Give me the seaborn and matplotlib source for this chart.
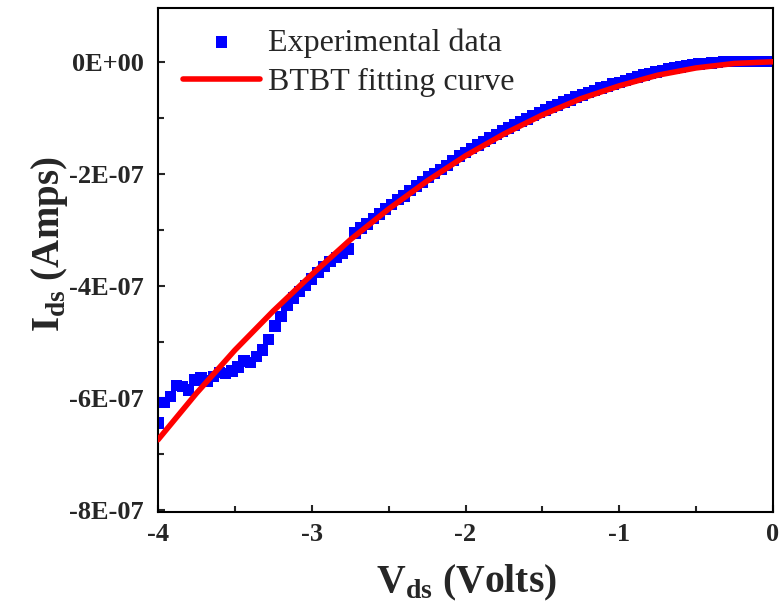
import matplotlib
matplotlib.use("Agg")
import matplotlib.pyplot as plt
import matplotlib.ticker as mticker
import numpy as np
import pandas as pd
import seaborn as sns

# measured sweep, Vds from -4 V to 0 V in 0.04 V steps
vds_exp = np.linspace(-4.0, 0.0, 101)
# drain current in units of 1e-7 A
ids_exp = [-6.45, -6.08, -5.98, -5.78, -5.80, -5.86, -5.68, -5.64, -5.70, -5.62,
           -5.55, -5.57, -5.52, -5.45, -5.34, -5.37, -5.26, -5.15, -4.96, -4.72,
           -4.55, -4.35, -4.22, -4.10, -4.00, -3.88, -3.76, -3.66, -3.57, -3.50,
           -3.42, -3.34, -3.06, -2.97, -2.90, -2.80, -2.72, -2.63, -2.55, -2.46,
           -2.40, -2.30, -2.22, -2.15, -2.06, -2.00, -1.92, -1.85, -1.76, -1.68,
           -1.62, -1.55, -1.49, -1.42, -1.36, -1.30, -1.24, -1.18, -1.13, -1.07,
           -1.02, -0.96, -0.91, -0.86, -0.81, -0.77, -0.72, -0.68, -0.63, -0.59,
           -0.55, -0.51, -0.47, -0.44, -0.40, -0.37, -0.33, -0.30, -0.27, -0.24,
           -0.21, -0.18, -0.16, -0.13, -0.11, -0.09, -0.07, -0.05, -0.04, -0.03,
           -0.02, -0.01, 0.00, 0.00, 0.00, 0.00, 0.00, 0.00, 0.00, 0.00, 0.00]

vds_fit = [-4.0, -3.75, -3.5, -3.25, -3.0, -2.75, -2.5, -2.25, -2.0,
           -1.75, -1.5, -1.25, -1.0, -0.75, -0.5, -0.25, 0.0]
ids_fit = [-6.75, -5.92, -5.15, -4.45, -3.80, -3.18, -2.63, -2.13, -1.68,
           -1.29, -0.95, -0.66, -0.43, -0.24, -0.11, -0.03, 0.0]

df_exp = pd.DataFrame({"V": vds_exp, "I": np.array(ids_exp) * 1e-7})
df_fit = pd.DataFrame({"V": vds_fit, "I": np.array(ids_fit) * 1e-7})

sns.set_style("ticks")
plt.rcParams["font.family"] = ["Liberation Serif", "DejaVu Serif"]
plt.rcParams["mathtext.fontset"] = "custom"
plt.rcParams["mathtext.rm"] = "Liberation Serif:bold"
plt.rcParams["mathtext.bf"] = "Liberation Serif:bold"
plt.rcParams["axes.unicode_minus"] = False

fig = plt.figure(figsize=(7.81, 6.08), dpi=100)
ax = fig.add_axes([158 / 781, 1 - 512 / 608, (773 - 158) / 781, (512 - 8) / 608])

sns.scatterplot(data=df_exp, x="V", y="I", marker="s", s=68, color="#0000ff",
                edgecolor="none", linewidth=0, label="Experimental data", ax=ax, zorder=2)
sns.lineplot(data=df_fit, x="V", y="I", color="#ff0000", linewidth=4,
             label="BTBT fitting curve", ax=ax, zorder=3)

ax.set_xlim(-4, 0)
ax.set_ylim(-8.04e-7, 0.96e-7)
ax.xaxis.set_major_locator(mticker.MultipleLocator(1))
ax.xaxis.set_minor_locator(mticker.MultipleLocator(0.5))
ax.yaxis.set_major_locator(mticker.MultipleLocator(2e-7))
ax.yaxis.set_minor_locator(mticker.MultipleLocator(1e-7))
ax.xaxis.set_major_formatter(mticker.FuncFormatter(lambda v, p: f"{v:.0f}"))
ax.yaxis.set_major_formatter(mticker.FuncFormatter(lambda v, p: f"{v:.0E}"))

ax.tick_params(which="both", direction="in", width=1.5, top=False, right=False)
ax.tick_params(which="major", length=5, labelsize=19)
ax.tick_params(which="minor", length=4)
ax.tick_params(axis="x", which="major", pad=8)
ax.tick_params(axis="y", which="major", pad=10.5)
for lab in ax.get_xticklabels() + ax.get_yticklabels():
    lab.set_fontweight("bold")
for sp in ax.spines.values():
    sp.set_linewidth(1.5)
    sp.set_color("black")

ax.set_xlabel(r"V$_{\mathbf{ds}}$ (Volts)", fontsize=28.5, fontweight="bold")
ax.set_ylabel(r"I$_{\mathbf{ds}}$ (Amps)", fontsize=28, fontweight="bold")
ax.xaxis.set_label_coords((466 - 158) / 615, -(563 - 512) / 504)
ax.yaxis.set_label_coords(-(158 - 70) / 615, (512 - 244) / 504)

ax.legend(loc="upper left", bbox_to_anchor=(183 / 781, 1 - 28 / 608),
          bbox_transform=fig.transFigure, frameon=False, fontsize=23,
          handlelength=2.4, handletextpad=0.25, borderpad=0, borderaxespad=0,
          labelspacing=0.32, markerscale=1.0)

fig.savefig("out.png", dpi=100)
